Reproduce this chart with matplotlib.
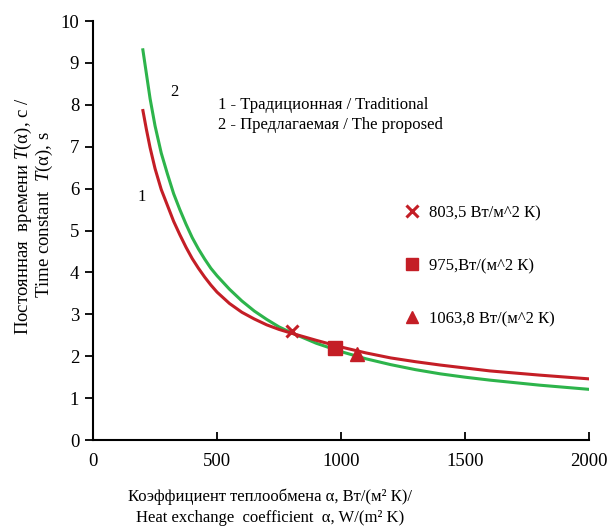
import matplotlib
matplotlib.use("Agg")
import matplotlib.pyplot as plt
from matplotlib.lines import Line2D

plt.rcParams['font.family'] = ['Liberation Serif', 'DejaVu Serif']
plt.rcParams['mathtext.fontset'] = 'custom'
plt.rcParams['mathtext.rm'] = 'Liberation Serif'
plt.rcParams['mathtext.it'] = 'Liberation Serif:italic'

# Data
alpha_trad = [200, 215, 230, 250, 275, 300, 325, 350, 375, 400, 425, 450, 475, 500,
              550, 600, 650, 700, 750, 800, 900, 1000, 1100, 1200, 1300, 1400, 1500,
              1600, 1800, 2000]
T_trad = [7.90, 7.42, 6.98, 6.48, 5.98, 5.60, 5.22, 4.90, 4.60, 4.33, 4.10, 3.89, 3.70, 3.53,
          3.26, 3.05, 2.89, 2.75, 2.64, 2.55, 2.38, 2.22, 2.08, 1.96, 1.87, 1.79, 1.72,
          1.65, 1.55, 1.46]
alpha_prop = [200, 215, 230, 250, 275, 300, 325, 350, 375, 400, 425, 450, 475, 500,
              550, 600, 650, 700, 750, 800, 900, 1000, 1100, 1200, 1300, 1400, 1500,
              1600, 1800, 2000]
T_prop = [9.35, 8.75, 8.15, 7.50, 6.85, 6.35, 5.88, 5.50, 5.15, 4.83, 4.56, 4.32, 4.10, 3.92,
          3.60, 3.32, 3.08, 2.88, 2.70, 2.56, 2.31, 2.11, 1.94, 1.80, 1.68, 1.58, 1.50,
          1.43, 1.31, 1.21]

point_alpha = [803.5, 975, 1063.8]
point_T = [2.6, 2.2, 2.05]
point_markers = ['x', 's', '^']
point_labels = ['803,5 Вт/м^2 К)', '975,Вт/(м^2 К)', '1063,8 Вт/(м^2 К)']

x_ticks = [0, 500, 1000, 1500, 2000]
y_ticks = list(range(0, 11))

red = '#C41E26'
green = '#2DB44B'

fig = plt.figure(figsize=(6.08, 5.27), dpi=100)
ax = fig.add_axes([0.153, 0.165, 0.816, 0.795])

ax.plot(alpha_trad, T_trad, color=red, lw=2.2, solid_capstyle='butt',
        solid_joinstyle='round', zorder=3)
ax.plot(alpha_prop, T_prop, color=green, lw=2.2, solid_capstyle='butt',
        solid_joinstyle='round', zorder=2)

handles = []
for a, t, m, lab in zip(point_alpha, point_T, point_markers, point_labels):
    if m == 'x':
        ax.plot([a], [t], marker=m, color=red, ms=9, mew=2.2, ls='none', zorder=4)
        handles.append(Line2D([], [], marker=m, color=red, ms=8, mew=2.2, ls='none', label=lab))
    else:
        ax.plot([a], [t], marker=m, color=red, ms=10, ls='none', zorder=4)
        handles.append(Line2D([], [], marker=m, color=red, ms=8, ls='none', label=lab))

leg = ax.legend(handles=handles, loc='upper left', bbox_to_anchor=(0.612, 0.577),
                frameon=False, fontsize=12, labelspacing=2.22, handlelength=1.0,
                handletextpad=0.55, borderaxespad=0)

ax.set_xlim(0, 2000)
ax.set_ylim(0, 10)
ax.set_xticks(x_ticks)
ax.set_yticks(y_ticks)
ax.tick_params(axis='x', direction='in', length=6, width=1.3, labelsize=13.5, pad=9)
ax.tick_params(axis='y', direction='out', length=6, width=1.3, labelsize=13.5, pad=4)
for s in ['top', 'right']:
    ax.spines[s].set_visible(False)
for s in ['left', 'bottom']:
    ax.spines[s].set_linewidth(1.5)

ax.text(0.252, 0.8, '1 - Традиционная / Traditional', transform=ax.transAxes,
        fontsize=12, va='center', ha='left')
ax.text(0.252, 0.752, '2 - Предлагаемая / The proposed', transform=ax.transAxes,
        fontsize=12, va='center', ha='left')
ax.text(0.163, 0.83, '2', transform=ax.transAxes, fontsize=12, va='center', ha='center')
ax.text(0.099, 0.58, '1', transform=ax.transAxes, fontsize=12, va='center', ha='center')

fig.text(0.038, 0.59, r'Постоянная  времени $T$(α), с /', rotation=90,
         fontsize=13.5, va='center', ha='center')
fig.text(0.073, 0.593, r'Time constant  $T$(α), s', rotation=90,
         fontsize=13.5, va='center', ha='center')

fig.text(0.444, 0.057, 'Коэффициент теплообмена α, Вт/(м² К)/', fontsize=12,
         va='center', ha='center')
fig.text(0.444, 0.017, 'Heat exchange  coefficient  α, W/(m² K)', fontsize=12,
         va='center', ha='center')

fig.savefig('out.png', dpi=100)
